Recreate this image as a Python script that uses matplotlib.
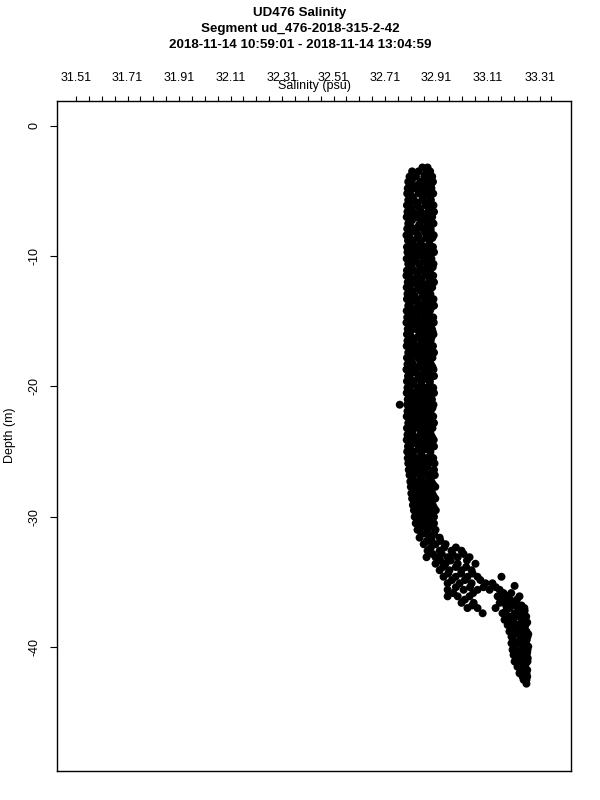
"""
UD476 salinity profile, segment ud_476-2018-315-2-42.
Output: out.png (600x800)
"""

import matplotlib
matplotlib.use("Agg")
import matplotlib.pyplot as plt
import numpy as np

plt.rcParams.update({
    "font.family": ["Liberation Sans", "DejaVu Sans"],
})

# ── data ──────────────────────────────────────────────────────────────────────
TITLE = ("UD476 Salinity\n"
         "Segment ud_476-2018-315-2-42\n"
         "2018-11-14 10:59:01 - 2018-11-14 13:04:59")

X_TICKS = [31.51, 31.71, 31.91, 32.11, 32.31, 32.51, 32.71, 32.91, 33.11, 33.31]
Y_TICKS = [0, -10, -20, -30, -40]
X_LIM = (31.436, 33.432)
Y_LIM = (-49.5, 1.9)

# upper mixed layer, descending casts: depth -> salinity samples
UPPER_DEPTH = [
    -3.2, -3.5, -3.9, -4.3, -4.8, -5.2, -5.7, -6.1, -6.6, -7.0,
    -7.5, -7.9, -8.4, -8.8, -9.3, -9.7, -10.2, -10.6, -11.1, -11.5,
    -12.0, -12.4, -12.9, -13.3, -13.8, -14.2, -14.7, -15.1, -15.6, -16.0,
    -16.5, -16.9, -17.4, -17.8, -18.3, -18.7, -19.2, -19.6, -20.1, -20.5,
    -21.0, -21.4, -21.9, -22.3, -22.8, -23.2, -23.7, -24.1, -24.6, -25.0,
    -25.5, -25.9, -26.4, -26.8, -27.3, -27.7, -28.2, -28.6, -29.1, -29.5,
    -30.0,
]
UPPER_SAL = [
    [32.855, 32.875],
    [32.815, 32.840, 32.885],
    [32.805, 32.830, 32.862, 32.893],
    [32.800, 32.848, 32.875, 32.896],
    [32.798, 32.826, 32.860, 32.890],
    [32.796, 32.840, 32.872, 32.897],
    [32.800, 32.822, 32.855, 32.888],
    [32.795, 32.835, 32.868, 32.898],
    [32.797, 32.818, 32.850, 32.880, 32.900],
    [32.794, 32.830, 32.862, 32.893],
    [32.800, 32.845, 32.875, 32.898],
    [32.796, 32.823, 32.858, 32.887],
    [32.793, 32.838, 32.870, 32.899],
    [32.799, 32.820, 32.850, 32.882],
    [32.795, 32.832, 32.864, 32.896],
    [32.797, 32.815, 32.847, 32.878, 32.900],
    [32.794, 32.828, 32.860, 32.890],
    [32.800, 32.842, 32.873, 32.898],
    [32.795, 32.820, 32.855, 32.885],
    [32.793, 32.835, 32.867, 32.897],
    [32.798, 32.825, 32.852, 32.880, 32.900],
    [32.794, 32.840, 32.870, 32.893],
    [32.797, 32.818, 32.858, 32.886],
    [32.795, 32.830, 32.865, 32.898],
    [32.800, 32.845, 32.875, 32.900],
    [32.794, 32.822, 32.853, 32.884],
    [32.796, 32.836, 32.868, 32.897],
    [32.793, 32.818, 32.850, 32.880, 32.899],
    [32.798, 32.830, 32.862, 32.892],
    [32.795, 32.843, 32.872, 32.898],
    [32.797, 32.820, 32.856, 32.887],
    [32.794, 32.833, 32.866, 32.896],
    [32.800, 32.825, 32.850, 32.878, 32.900],
    [32.795, 32.840, 32.870, 32.894],
    [32.797, 32.818, 32.858, 32.888],
    [32.793, 32.830, 32.864, 32.898],
    [32.799, 32.845, 32.876, 32.900],
    [32.795, 32.822, 32.853, 32.884],
    [32.797, 32.837, 32.869, 32.897],
    [32.794, 32.818, 32.850, 32.880, 32.900],
    [32.798, 32.830, 32.862, 32.892],
    [32.767, 32.796, 32.842, 32.873, 32.898],
    [32.797, 32.820, 32.856, 32.887],
    [32.794, 32.833, 32.866, 32.897],
    [32.800, 32.825, 32.850, 32.878, 32.900],
    [32.795, 32.840, 32.870, 32.894],
    [32.797, 32.818, 32.858, 32.888],
    [32.794, 32.830, 32.864, 32.899],
    [32.799, 32.845, 32.876, 32.900],
    [32.796, 32.822, 32.853, 32.886],
    [32.798, 32.837, 32.869, 32.897],
    [32.800, 32.820, 32.850, 32.880, 32.902],
    [32.802, 32.832, 32.864, 32.900],
    [32.805, 32.845, 32.876, 32.903],
    [32.808, 32.826, 32.858, 32.890],
    [32.810, 32.838, 32.870, 32.905],
    [32.812, 32.830, 32.860, 32.893],
    [32.815, 32.845, 32.875, 32.905],
    [32.818, 32.835, 32.862, 32.895],
    [32.822, 32.850, 32.878, 32.907],
    [32.825, 32.840, 32.868, 32.900],
]

# upper mixed layer, ascending casts (between the rows above)
UPPER_DEPTH_B = [
    -3.7, -4.1, -4.55, -5.0, -5.45, -5.9, -6.35, -6.8, -7.25, -7.7,
    -8.15, -8.6, -9.05, -9.5, -9.95, -10.4, -10.85, -11.3, -11.75, -12.2,
    -12.65, -13.1, -13.55, -14.0, -14.45, -14.9, -15.35, -15.8, -16.25, -16.7,
    -17.15, -17.6, -18.05, -18.5, -18.95, -19.4, -19.85, -20.3, -20.75, -21.2,
    -21.65, -22.1, -22.55, -23.0, -23.45, -23.9, -24.35, -24.8, -25.25, -25.7,
    -26.15, -26.6, -27.05, -27.5, -27.95, -28.4, -28.85, -29.3, -29.75,
]
UPPER_SAL_B = [
    [32.822, 32.868],
    [32.815, 32.880],
    [32.812, 32.835, 32.862, 32.888],
    [32.808, 32.850, 32.876],
    [32.816, 32.858, 32.885],
    [32.808, 32.838, 32.872],
    [32.812, 32.845, 32.880],
    [32.806, 32.835, 32.866, 32.892],
    [32.815, 32.852, 32.885],
    [32.808, 32.840, 32.873],
    [32.812, 32.832, 32.865, 32.888],
    [32.806, 32.838, 32.870, 32.894],
    [32.815, 32.848, 32.882],
    [32.808, 32.826, 32.858, 32.888],
    [32.812, 32.840, 32.872],
    [32.807, 32.830, 32.862, 32.886],
    [32.814, 32.846, 32.876, 32.895],
    [32.806, 32.838, 32.870],
    [32.813, 32.850, 32.884],
    [32.808, 32.836, 32.864, 32.890],
    [32.815, 32.845, 32.874],
    [32.806, 32.826, 32.856, 32.885],
    [32.812, 32.838, 32.868, 32.893],
    [32.808, 32.832, 32.862, 32.888],
    [32.814, 32.846, 32.878],
    [32.806, 32.830, 32.864, 32.892],
    [32.812, 32.840, 32.870],
    [32.808, 32.848, 32.880, 32.895],
    [32.815, 32.836, 32.866, 32.890],
    [32.806, 32.850, 32.878],
    [32.812, 32.838, 32.864, 32.891],
    [32.808, 32.832, 32.860, 32.886],
    [32.814, 32.846, 32.874],
    [32.806, 32.840, 32.878, 32.894],
    [32.812, 32.830, 32.858, 32.888],
    [32.808, 32.838, 32.866],
    [32.815, 32.850, 32.884],
    [32.806, 32.834, 32.864, 32.892],
    [32.812, 32.842, 32.872],
    [32.808, 32.826, 32.856, 32.886],
    [32.813, 32.838, 32.868, 32.894],
    [32.806, 32.846, 32.878],
    [32.812, 32.836, 32.862, 32.890],
    [32.808, 32.832, 32.860, 32.885],
    [32.815, 32.848, 32.876],
    [32.806, 32.838, 32.870, 32.893],
    [32.812, 32.826, 32.854, 32.882],
    [32.808, 32.840, 32.868],
    [32.814, 32.850, 32.886],
    [32.808, 32.832, 32.862, 32.892],
    [32.812, 32.844, 32.874],
    [32.815, 32.834, 32.860, 32.892],
    [32.818, 32.850, 32.882],
    [32.820, 32.842, 32.866, 32.896],
    [32.822, 32.852, 32.884],
    [32.826, 32.844, 32.870, 32.898],
    [32.828, 32.856, 32.886],
    [32.830, 32.848, 32.872, 32.900],
    [32.834, 32.858, 32.890],
]

# halocline and bottom water
LOWER_DEPTH = [
    -30.5, -31.0, -31.6, -32.1, -32.6, -33.1, -33.6, -34.1, -34.6, -35.1,
    -35.3, -35.6, -36.1, -36.6, -37.0, -37.4, -37.9, -38.3, -38.8, -39.2,
    -39.7, -40.2, -40.6, -41.1, -41.5, -42.0, -42.5, -42.8,
]
LOWER_SAL = [
    [32.829, 32.844, 32.883, 32.900],
    [32.836, 32.875, 32.906],
    [32.844, 32.891, 32.922],
    [32.860, 32.906, 32.945],
    [32.875, 32.922, 32.968, 33.007],
    [32.871, 32.906, 32.953, 32.992, 33.038],
    [32.906, 32.945, 32.992, 33.061],
    [32.922, 32.960, 33.007, 33.046],
    [32.937, 32.984, 33.030, 33.069, 33.162],
    [32.953, 33.000, 33.046, 33.100, 33.127],
    [33.213],
    [32.953, 33.015, 33.069, 33.116, 33.155],
    [32.953, 32.992, 33.038, 33.147, 33.186, 33.232],
    [33.007, 33.054, 33.155, 33.178, 33.209],
    [33.030, 33.069, 33.139, 33.193, 33.251],
    [33.089, 33.166, 33.213, 33.240],
    [33.174, 33.209, 33.248],
    [33.186, 33.224, 33.255],
    [33.193, 33.232, 33.259],
    [33.201, 33.236, 33.263],
    [33.201, 33.224, 33.255],
    [33.205, 33.240, 33.263],
    [33.209, 33.232, 33.259],
    [33.213, 33.244, 33.263],
    [33.224, 33.251],
    [33.232, 33.259],
    [33.248, 33.259],
    [33.259],
]

LOWER_DEPTH_B = [
    -30.25, -30.75, -31.3, -31.85, -32.35, -32.85, -33.35, -33.85, -34.35,
    -34.85, -35.4, -35.85, -36.35, -36.8, -37.2, -37.65, -38.1, -38.55,
    -39.0, -39.45, -39.95, -40.4, -40.85, -41.3, -41.75, -42.25,
]
LOWER_SAL_B = [
    [32.836, 32.860, 32.890],
    [32.850, 32.866, 32.895],
    [32.852, 32.870, 32.900],
    [32.872, 32.890, 32.925],
    [32.888, 32.940, 32.985],
    [32.895, 32.930, 32.972, 33.015],
    [32.925, 32.965, 33.028],
    [32.935, 32.985, 33.025],
    [32.955, 33.005, 33.050],
    [32.970, 33.020, 33.080],
    [32.985, 33.040, 33.092, 33.140],
    [32.975, 33.052, 33.170, 33.200],
    [33.020, 33.165, 33.195, 33.222],
    [33.048, 33.180, 33.215, 33.240],
    [33.180, 33.228, 33.252],
    [33.192, 33.230, 33.258],
    [33.198, 33.240, 33.262],
    [33.205, 33.228, 33.252],
    [33.212, 33.248, 33.266],
    [33.208, 33.238, 33.260],
    [33.214, 33.246, 33.266],
    [33.218, 33.250, 33.262],
    [33.220, 33.248, 33.264],
    [33.228, 33.256],
    [33.236, 33.262],
    [33.244, 33.262],
]

# flatten rows into point arrays
depth, sal = [], []
for d_list, s_list in ((UPPER_DEPTH, UPPER_SAL), (UPPER_DEPTH_B, UPPER_SAL_B),
                       (LOWER_DEPTH, LOWER_SAL), (LOWER_DEPTH_B, LOWER_SAL_B)):
    for d, row in zip(d_list, s_list):
        sal.extend(row)
        depth.extend([d] * len(row))
depth = np.array(depth)
sal = np.array(sal)

# ── figure ────────────────────────────────────────────────────────────────────
fig = plt.figure(figsize=(6, 8), dpi=100)
ax = fig.add_axes([57 / 600, 1 - 771 / 800, 514 / 600, (771 - 101) / 800])

ax.scatter(sal, depth, s=33, color="black", edgecolors="none")

ax.set_xlim(*X_LIM)
ax.set_ylim(*Y_LIM)

ax.xaxis.tick_top()
ax.set_xticks(X_TICKS)
ax.set_xticklabels([f"{v:.2f}" for v in X_TICKS])
minor = [31.51 + 0.05 * k for k in range(37)] + [33.355]
ax.set_xticks(minor, minor=True)
ax.tick_params(axis="x", which="both", direction="out", length=3.6, width=0.8,
               pad=8.5, labelsize=9, bottom=False, top=True)
ax.tick_params(axis="x", which="minor", labeltop=False)

ax.set_yticks(Y_TICKS)
ax.set_yticklabels([str(v) for v in Y_TICKS])
ax.tick_params(axis="y", direction="out", length=5, width=0.8, pad=7,
               labelsize=9, labelrotation=90)
for lbl in ax.get_yticklabels():
    lbl.set_va("center")

for sp in ax.spines.values():
    sp.set_linewidth(1.0)

fig.text(314 / 600, 1 - 86 / 800, "Salinity (psu)", ha="center", va="center",
         fontsize=9)
fig.text(10 / 600, 1 - 435 / 800, "Depth (m)", ha="center", va="center",
         rotation=90, fontsize=9)
fig.text(0.5, 1 - 29 / 800, TITLE, ha="center", va="center", fontsize=9.6,
         fontweight="bold", linespacing=1.4)

fig.savefig("out.png", dpi=100)
